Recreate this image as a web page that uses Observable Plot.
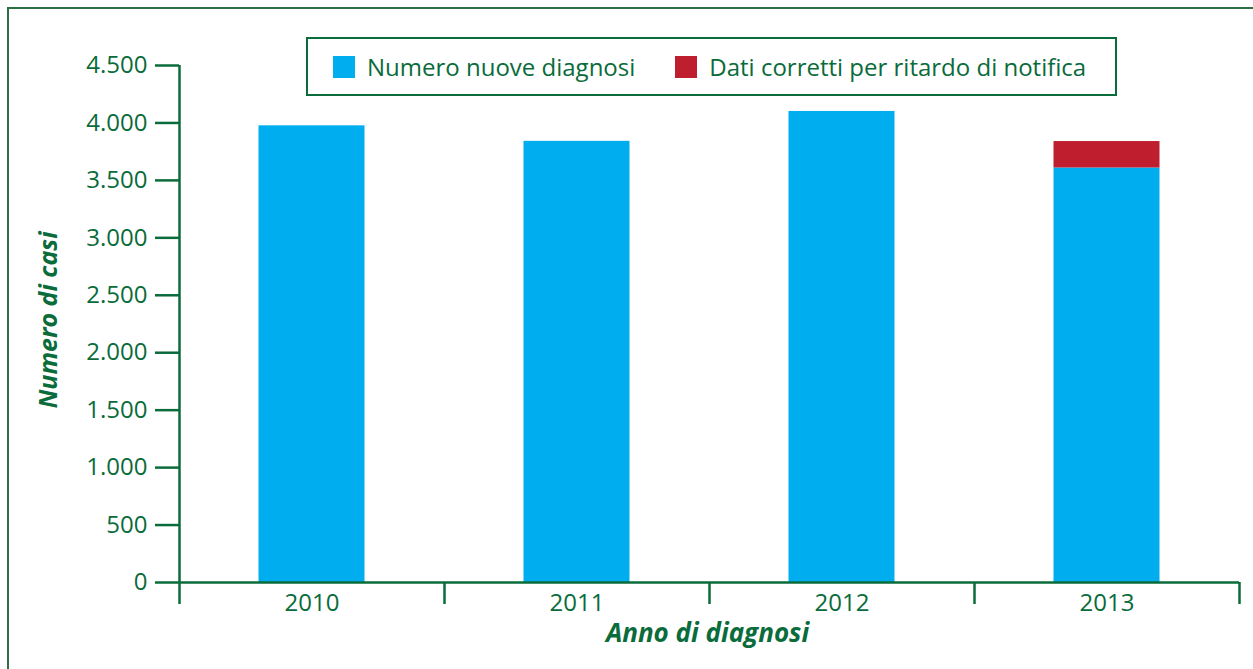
<!DOCTYPE html>
<html>
<head>
<meta charset="utf-8">
<script src="https://cdn.jsdelivr.net/npm/d3@7"></script>
<script src="https://cdn.jsdelivr.net/npm/@observablehq/plot@0.6"></script>
<style>
  html, body { margin: 0; padding: 0; background: #fff; }
  #wrap { position: relative; width: 1253px; height: 669px; overflow: hidden; font-family: "Open Sans", sans-serif; }
  #frame { position: absolute; left: 7px; top: 7px; width: 1300px; height: 700px; border: 2px solid #2d6e45; box-sizing: border-box; }
  #legend { position: absolute; left: 306px; top: 37px; width: 811px; height: 59px; border: 2.5px solid #0a6b3b; box-sizing: border-box;
            display: flex; align-items: center; padding-left: 25px; color: #0a6b3b; font-size: 24px; }
  .sw { width: 22px; height: 22px; display: inline-block; }
  #chart { position: absolute; left: 0; top: 0; }
</style>
</head>
<body>
<div id="wrap">
  <div id="frame"></div>
  <div id="chart"></div>
  <div id="legend"></div>
</div>
<script>
const years = [2010, 2011, 2012, 2013];
const newDiagnoses = [3975, 3840, 4100, 3608];
const correction = [0, 0, 0, 230];
const seriesNames = ["Numero nuove diagnosi", "Dati corretti per ritardo di notifica"];
const seriesColors = ["#00aeef", "#be1e2d"];
const yTicks = [0, 500, 1000, 1500, 2000, 2500, 3000, 3500, 4000, 4500];
const xLabel = "Anno di diagnosi";
const yLabel = "Numero di casi";

const green = "#0a6b3b";
const rows = [];
years.forEach((yr, i) => {
  rows.push({year: yr, series: seriesNames[0], y1: 0, y2: newDiagnoses[i]});
  if (correction[i] > 0) rows.push({year: yr, series: seriesNames[1], y1: newDiagnoses[i], y2: newDiagnoses[i] + correction[i]});
});

const loc = d3.formatLocale({decimal: ",", thousands: ".", grouping: [3], currency: ["", ""]});
const fmt = loc.format(",");
const boundaries = [...years.map(y => y - 0.5), years[years.length - 1] + 0.5];

const chart = Plot.plot({
  width: 1253,
  height: 669,
  marginLeft: 179,
  marginRight: 14,
  marginTop: 65,
  marginBottom: 87,
  style: {fontFamily: "Open Sans, sans-serif", fontSize: "24px", color: green, background: "transparent"},
  x: {type: "linear", domain: [years[0] - 0.5, years[years.length - 1] + 0.5]},
  y: {domain: [0, 4500]},
  color: {domain: seriesNames, range: seriesColors},
  marks: [
    Plot.rectY(rows, {x1: d => d.year - 0.2, x2: d => d.year + 0.2, y1: "y1", y2: "y2", fill: "series"}),
    Plot.ruleY([0], {stroke: green, strokeWidth: 2.5}),
    Plot.ruleX([boundaries[0]], {y1: 0, y2: 4500, stroke: green, strokeWidth: 2.5}),
    Plot.axisY({ticks: yTicks, tickFormat: fmt, tickSize: 24, tickPadding: 8, stroke: green, strokeWidth: 2.5, fill: green, label: null, fontSize: 24}),
    Plot.axisX({ticks: boundaries, tickFormat: () => "", tickSize: 22, stroke: green, strokeWidth: 2.5, label: null}),
    Plot.text(years, {x: d => d, y: 0, dy: 21, text: d => String(d), fill: green, fontSize: 24}),
    Plot.text([yLabel], {frameAnchor: "left", textAnchor: "middle", rotate: -90, dx: -131, dy: -4, fill: green, fontSize: 25, fontWeight: "bold", fontStyle: "italic"}),
    Plot.text([xLabel], {frameAnchor: "bottom", dy: 59, dx: -2, fill: green, fontSize: 26, fontWeight: "bold", fontStyle: "italic"})
  ]
});
document.getElementById("chart").appendChild(chart);

const legend = document.getElementById("legend");
seriesNames.forEach((name, i) => {
  const sw = document.createElement("span");
  sw.className = "sw";
  sw.style.background = seriesColors[i];
  sw.style.marginRight = "12px";
  const t = document.createElement("span");
  t.textContent = name;
  t.style.marginRight = i === 0 ? "40px" : "0";
  legend.appendChild(sw);
  legend.appendChild(t);
});
</script>
</body>
</html>
